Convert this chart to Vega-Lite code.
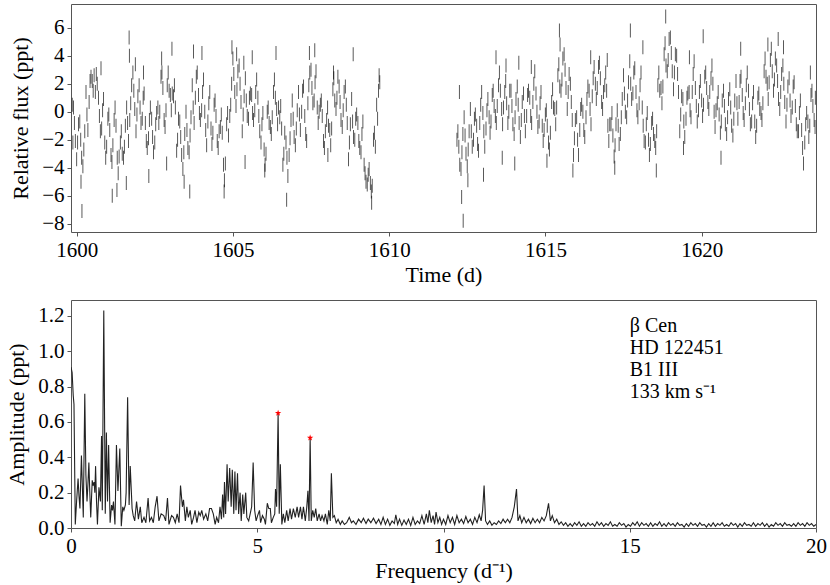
{
"$schema":"https://vega.github.io/schema/vega-lite/v6.json",
"padding":{"left":5,"top":3,"right":13,"bottom":5},
"spacing":68,
"bounds":"flush",
"config":{
"font":"Liberation Serif",
"view":{"stroke":"#555","strokeWidth":1},
"axis":{"labelFont":"Liberation Serif","titleFont":"Liberation Serif","labelFontSize":21,"titleFontSize":22,"titleFontWeight":"normal","labelColor":"#000","titleColor":"#000","grid":false,"domain":false,"tickColor":"#555","tickSize":4,"labelPadding":3,"labelFlush":false,"labelOverlap":false},
"axisY":{"titlePadding":9},
"axisX":{"titlePadding":4}
},
"datasets":{
"lc":[
{"t":1599.86,"f":0.5},{"t":1599.88,"f":-2.2},
{"t":1599.90,"f":0.3},{"t":1599.93,"f":-0.8},{"t":1599.96,"f":-2.1},
{"t":1600.00,"f":-3.4},{"t":1600.03,"f":-2.2},{"t":1600.06,"f":-0.9},
{"t":1600.10,"f":-0.7},{"t":1600.13,"f":-2.0},{"t":1600.16,"f":-3.3},{"t":1600.17,"f":-7.1},{"t":1600.14,"f":-5.0},
{"t":1600.20,"f":-3.9},{"t":1600.23,"f":-2.7},{"t":1600.26,"f":-1.4},
{"t":1600.30,"f":1.4},{"t":1600.33,"f":-0.2},{"t":1600.36,"f":-1.3},
{"t":1600.40,"f":0.7},{"t":1600.43,"f":2.2},{"t":1600.46,"f":2.5},
{"t":1600.50,"f":2.2},{"t":1600.53,"f":1.5},{"t":1600.56,"f":2.6},
{"t":1600.60,"f":1.4},{"t":1600.63,"f":2.7},{"t":1600.66,"f":2.0},
{"t":1600.70,"f":1.0},{"t":1600.73,"f":-0.3},{"t":1600.76,"f":-1.4},{"t":1600.78,"f":3.1},
{"t":1600.80,"f":-1.2},{"t":1600.83,"f":0.1},{"t":1600.86,"f":0.9},
{"t":1600.90,"f":-2.2},{"t":1600.93,"f":-3.3},{"t":1600.96,"f":-2.5},
{"t":1601.00,"f":-0.5},{"t":1601.03,"f":-0.2},{"t":1601.06,"f":-1.3},
{"t":1601.10,"f":-3.1},{"t":1601.13,"f":-3.6},{"t":1601.16,"f":-2.4},{"t":1601.14,"f":-6.0},
{"t":1601.20,"f":-0.6},{"t":1601.23,"f":0.3},{"t":1601.26,"f":-1.0},
{"t":1601.30,"f":-3.3},{"t":1601.33,"f":-4.4},{"t":1601.36,"f":-3.2},{"t":1601.29,"f":-5.6},
{"t":1601.40,"f":-2.2},{"t":1601.43,"f":-1.4},{"t":1601.46,"f":-3.0},
{"t":1601.50,"f":-3.3},{"t":1601.53,"f":-2.5},{"t":1601.56,"f":-1.0},{"t":1601.59,"f":-5.1},
{"t":1601.60,"f":0.3},{"t":1601.63,"f":-0.8},{"t":1601.66,"f":-2.1},
{"t":1601.70,"f":-0.6},{"t":1601.73,"f":0.6},{"t":1601.76,"f":1.9},{"t":1601.68,"f":5.3},{"t":1601.69,"f":4.0},
{"t":1601.80,"f":2.8},{"t":1601.83,"f":1.5},{"t":1601.86,"f":0.2},
{"t":1601.90,"f":-1.4},{"t":1601.93,"f":-0.2},{"t":1601.96,"f":1.1},{"t":1601.88,"f":3.4},
{"t":1602.00,"f":1.9},{"t":1602.03,"f":0.3},{"t":1602.06,"f":-0.8},
{"t":1602.10,"f":-0.5},{"t":1602.13,"f":1.0},{"t":1602.16,"f":1.3},{"t":1602.14,"f":2.8},
{"t":1602.20,"f":-0.8},{"t":1602.23,"f":-2.1},{"t":1602.26,"f":-2.6},
{"t":1602.30,"f":-1.9},{"t":1602.33,"f":-0.6},{"t":1602.36,"f":0.3},{"t":1602.31,"f":-4.6},
{"t":1602.40,"f":-0.5},{"t":1602.43,"f":-1.8},{"t":1602.46,"f":-2.9},
{"t":1602.50,"f":-2.2},{"t":1602.53,"f":-0.9},{"t":1602.56,"f":-0.1},
{"t":1602.60,"f":0.3},{"t":1602.63,"f":-0.8},{"t":1602.66,"f":0.0},
{"t":1602.70,"f":2.5},{"t":1602.73,"f":2.8},{"t":1602.76,"f":1.7},{"t":1602.72,"f":3.8},
{"t":1602.80,"f":-0.6},{"t":1602.83,"f":-1.1},{"t":1602.86,"f":0.1},{"t":1602.88,"f":-3.7},
{"t":1602.90,"f":1.9},{"t":1602.93,"f":2.8},{"t":1602.96,"f":1.5},
{"t":1603.00,"f":1.2},{"t":1603.03,"f":0.1},{"t":1603.06,"f":1.3},{"t":1603.05,"f":4.5},
{"t":1603.10,"f":1.1},{"t":1603.13,"f":1.9},{"t":1603.16,"f":0.3},
{"t":1603.20,"f":-2.8},{"t":1603.23,"f":-2.0},{"t":1603.26,"f":-0.5},
{"t":1603.30,"f":-0.7},{"t":1603.33,"f":-1.8},{"t":1603.36,"f":-3.1},
{"t":1603.40,"f":-4.1},{"t":1603.43,"f":-2.9},{"t":1603.46,"f":-1.6},{"t":1603.44,"f":-5.0},
{"t":1603.50,"f":0.0},{"t":1603.53,"f":-1.3},{"t":1603.56,"f":-2.6},
{"t":1603.60,"f":-2.9},{"t":1603.63,"f":-1.7},{"t":1603.66,"f":-0.4},{"t":1603.62,"f":-5.7},
{"t":1603.70,"f":1.9},{"t":1603.73,"f":0.3},{"t":1603.76,"f":-0.8},{"t":1603.74,"f":4.3},
{"t":1603.80,"f":1.0},{"t":1603.83,"f":2.5},{"t":1603.86,"f":2.8},
{"t":1603.90,"f":1.2},{"t":1603.93,"f":-0.1},{"t":1603.96,"f":-0.6},
{"t":1604.00,"f":0.1},{"t":1604.03,"f":1.4},{"t":1604.06,"f":2.3},{"t":1604.01,"f":4.2},
{"t":1604.10,"f":0.0},{"t":1604.13,"f":-1.3},{"t":1604.16,"f":-2.4},
{"t":1604.20,"f":-0.7},{"t":1604.23,"f":0.6},{"t":1604.26,"f":1.4},
{"t":1604.30,"f":-1.2},{"t":1604.33,"f":-2.3},{"t":1604.36,"f":-1.5},
{"t":1604.40,"f":0.5},{"t":1604.43,"f":0.8},{"t":1604.46,"f":-0.3},
{"t":1604.50,"f":-2.1},{"t":1604.53,"f":-2.6},{"t":1604.56,"f":-1.4},
{"t":1604.60,"f":-1.1},{"t":1604.63,"f":-0.2},{"t":1604.66,"f":-1.5},
{"t":1604.70,"f":-3.8},{"t":1604.73,"f":-4.9},{"t":1604.76,"f":-3.7},{"t":1604.72,"f":-5.7},
{"t":1604.80,"f":-0.9},{"t":1604.83,"f":-0.1},{"t":1604.86,"f":-1.7},
{"t":1604.90,"f":-0.3},{"t":1604.93,"f":0.5},{"t":1604.96,"f":2.0},
{"t":1605.00,"f":3.8},{"t":1605.03,"f":2.7},{"t":1605.06,"f":1.4},{"t":1604.97,"f":4.6},
{"t":1605.10,"f":0.4},{"t":1605.13,"f":1.6},{"t":1605.16,"f":2.9},{"t":1605.12,"f":4.1},
{"t":1605.20,"f":3.3},{"t":1605.23,"f":2.0},{"t":1605.26,"f":0.7},
{"t":1605.30,"f":-1.4},{"t":1605.33,"f":-0.2},{"t":1605.36,"f":1.1},{"t":1605.35,"f":3.5},
{"t":1605.40,"f":2.4},{"t":1605.43,"f":0.8},{"t":1605.46,"f":-0.3},{"t":1605.39,"f":-3.6},
{"t":1605.50,"f":-0.5},{"t":1605.53,"f":1.0},{"t":1605.56,"f":1.3},
{"t":1605.60,"f":1.2},{"t":1605.63,"f":-0.1},{"t":1605.66,"f":-0.6},{"t":1605.62,"f":3.9},
{"t":1605.70,"f":0.1},{"t":1605.73,"f":1.4},{"t":1605.76,"f":2.3},
{"t":1605.80,"f":1.0},{"t":1605.83,"f":-0.3},{"t":1605.86,"f":-1.4},
{"t":1605.90,"f":-2.2},{"t":1605.93,"f":-0.9},{"t":1605.96,"f":-0.1},
{"t":1606.00,"f":-2.7},{"t":1606.03,"f":-3.8},{"t":1606.06,"f":-3.0},{"t":1606.02,"f":-4.2},
{"t":1606.10,"f":0.0},{"t":1606.13,"f":0.3},{"t":1606.16,"f":-0.8},
{"t":1606.20,"f":-1.1},{"t":1606.23,"f":-1.6},{"t":1606.26,"f":-0.4},
{"t":1606.30,"f":1.4},{"t":1606.33,"f":2.3},{"t":1606.36,"f":1.0},{"t":1606.38,"f":4.2},
{"t":1606.40,"f":0.2},{"t":1606.43,"f":-0.9},{"t":1606.46,"f":0.3},
{"t":1606.50,"f":-0.4},{"t":1606.53,"f":0.4},{"t":1606.56,"f":-1.2},
{"t":1606.60,"f":-3.8},{"t":1606.63,"f":-3.0},{"t":1606.66,"f":-1.5},
{"t":1606.70,"f":-2.2},{"t":1606.73,"f":-3.3},{"t":1606.76,"f":-4.6},{"t":1606.72,"f":-6.3},
{"t":1606.80,"f":-3.1},{"t":1606.83,"f":-1.9},{"t":1606.86,"f":-0.6},
{"t":1606.90,"f":0.8},{"t":1606.93,"f":-0.5},{"t":1606.96,"f":-1.8},
{"t":1607.00,"f":-2.4},{"t":1607.03,"f":-1.2},{"t":1607.06,"f":0.1},
{"t":1607.10,"f":1.4},{"t":1607.13,"f":-0.2},{"t":1607.16,"f":-1.3},
{"t":1607.20,"f":0.0},{"t":1607.23,"f":1.5},{"t":1607.26,"f":1.8},
{"t":1607.30,"f":-0.3},{"t":1607.33,"f":-1.6},{"t":1607.36,"f":-2.1},
{"t":1607.40,"f":0.6},{"t":1607.43,"f":1.9},{"t":1607.46,"f":2.8},{"t":1607.45,"f":4.2},
{"t":1607.50,"f":3.0},{"t":1607.53,"f":1.7},{"t":1607.56,"f":0.6},
{"t":1607.60,"f":0.8},{"t":1607.63,"f":2.1},{"t":1607.66,"f":2.9},{"t":1607.62,"f":4.4},
{"t":1607.70,"f":0.3},{"t":1607.73,"f":-0.8},{"t":1607.76,"f":0.0},
{"t":1607.80,"f":0.5},{"t":1607.83,"f":0.8},{"t":1607.86,"f":-0.3},
{"t":1607.90,"f":-2.1},{"t":1607.93,"f":-2.6},{"t":1607.96,"f":-1.4},
{"t":1608.00,"f":-0.6},{"t":1608.03,"f":0.3},{"t":1608.06,"f":-1.0},{"t":1608.04,"f":-3.1},
{"t":1608.10,"f":-1.3},{"t":1608.13,"f":-2.4},{"t":1608.16,"f":-1.2},
{"t":1608.20,"f":1.6},{"t":1608.23,"f":2.4},{"t":1608.26,"f":0.8},{"t":1608.22,"f":2.8},
{"t":1608.30,"f":0.2},{"t":1608.33,"f":1.0},{"t":1608.36,"f":2.5},
{"t":1608.40,"f":1.8},{"t":1608.43,"f":0.7},{"t":1608.46,"f":-0.6},
{"t":1608.50,"f":-1.1},{"t":1608.53,"f":0.1},{"t":1608.56,"f":1.4},
{"t":1608.60,"f":1.8},{"t":1608.63,"f":0.5},{"t":1608.66,"f":-0.8},
{"t":1608.70,"f":-3.4},{"t":1608.73,"f":-2.2},{"t":1608.76,"f":-0.9},
{"t":1608.80,"f":0.9},{"t":1608.83,"f":-0.7},{"t":1608.86,"f":-1.8},{"t":1608.85,"f":4.1},
{"t":1608.90,"f":-2.0},{"t":1608.93,"f":-0.5},{"t":1608.96,"f":-0.2},
{"t":1609.00,"f":-0.8},{"t":1609.03,"f":-2.1},{"t":1609.06,"f":-2.6},
{"t":1609.10,"f":-2.9},{"t":1609.13,"f":-1.6},{"t":1609.16,"f":-0.7},
{"t":1609.20,"f":-3.8},{"t":1609.23,"f":-4.4},{"t":1609.26,"f":-5.0},
{"t":1609.30,"f":-5.2},{"t":1609.33,"f":-4.5},{"t":1609.36,"f":-4.1},
{"t":1609.40,"f":-5.1},{"t":1609.43,"f":-5.7},{"t":1609.46,"f":-5.3},{"t":1609.44,"f":-6.5},
{"t":1609.50,"f":-2.0},{"t":1609.53,"f":-1.5},{"t":1609.56,"f":-2.5},
{"t":1609.60,"f":0.5},{"t":1609.63,"f":-0.5},{"t":1609.66,"f":1.5},{"t":1609.68,"f":2.6},
{"t":1609.70,"f":2.1},
{"t":1612.17,"f":-2.0},
{"t":1612.20,"f":-1.4},{"t":1612.23,"f":-2.5},{"t":1612.26,"f":-3.8},{"t":1612.25,"f":1.4},
{"t":1612.30,"f":-4.1},{"t":1612.33,"f":-2.9},{"t":1612.36,"f":-1.6},{"t":1612.32,"f":-6.1},{"t":1612.37,"f":-7.8},
{"t":1612.40,"f":-0.4},{"t":1612.43,"f":-1.7},{"t":1612.46,"f":-3.0},
{"t":1612.50,"f":-3.9},{"t":1612.53,"f":-2.7},{"t":1612.56,"f":-1.4},{"t":1612.52,"f":-4.9},
{"t":1612.60,"f":0.2},{"t":1612.63,"f":-1.4},{"t":1612.66,"f":-2.5},
{"t":1612.70,"f":-2.0},{"t":1612.73,"f":-0.5},{"t":1612.76,"f":-0.2},
{"t":1612.80,"f":-1.0},{"t":1612.83,"f":-2.3},{"t":1612.86,"f":-2.8},
{"t":1612.90,"f":-0.8},{"t":1612.93,"f":0.5},{"t":1612.96,"f":1.4},
{"t":1613.00,"f":-0.1},{"t":1613.03,"f":-1.4},{"t":1613.06,"f":-2.5},{"t":1613.02,"f":-4.5},
{"t":1613.10,"f":-1.2},{"t":1613.13,"f":0.1},{"t":1613.16,"f":0.9},
{"t":1613.20,"f":-0.4},{"t":1613.23,"f":-1.5},{"t":1613.26,"f":-0.7},
{"t":1613.30,"f":1.2},{"t":1613.33,"f":1.5},{"t":1613.36,"f":0.4},
{"t":1613.40,"f":-0.3},{"t":1613.43,"f":-0.8},{"t":1613.46,"f":0.4},{"t":1613.42,"f":3.9},
{"t":1613.50,"f":1.9},{"t":1613.53,"f":2.8},{"t":1613.56,"f":1.5},
{"t":1613.60,"f":0.2},{"t":1613.63,"f":-0.9},{"t":1613.66,"f":0.3},{"t":1613.62,"f":-3.3},
{"t":1613.70,"f":1.4},{"t":1613.73,"f":2.2},{"t":1613.76,"f":0.6},{"t":1613.74,"f":3.3},
{"t":1613.80,"f":-0.8},{"t":1613.83,"f":0.0},{"t":1613.86,"f":1.5},
{"t":1613.90,"f":1.5},{"t":1613.93,"f":0.4},{"t":1613.96,"f":-0.9},
{"t":1614.00,"f":-1.6},{"t":1614.03,"f":-0.4},{"t":1614.06,"f":0.9},{"t":1614.02,"f":-3.7},
{"t":1614.10,"f":1.8},{"t":1614.13,"f":0.5},{"t":1614.16,"f":-0.8},{"t":1614.15,"f":3.5},
{"t":1614.20,"f":-1.8},{"t":1614.23,"f":-0.6},{"t":1614.26,"f":0.7},
{"t":1614.30,"f":1.3},{"t":1614.33,"f":-0.3},{"t":1614.36,"f":-1.4},
{"t":1614.40,"f":-0.3},{"t":1614.43,"f":1.2},{"t":1614.46,"f":1.5},
{"t":1614.50,"f":1.0},{"t":1614.53,"f":-0.3},{"t":1614.56,"f":-0.8},{"t":1614.55,"f":3.2},
{"t":1614.60,"f":0.7},{"t":1614.63,"f":2.0},{"t":1614.66,"f":2.9},
{"t":1614.70,"f":1.3},{"t":1614.73,"f":0.0},{"t":1614.76,"f":-1.1},
{"t":1614.80,"f":-0.7},{"t":1614.83,"f":0.6},{"t":1614.86,"f":1.4},
{"t":1614.90,"f":-1.0},{"t":1614.93,"f":-2.1},{"t":1614.96,"f":-1.3},
{"t":1615.00,"f":-0.2},{"t":1615.03,"f":0.1},{"t":1615.06,"f":-1.0},{"t":1615.05,"f":-3.5},
{"t":1615.10,"f":-2.2},{"t":1615.13,"f":-2.7},{"t":1615.16,"f":-1.5},
{"t":1615.20,"f":0.7},{"t":1615.23,"f":1.6},{"t":1615.26,"f":0.3},
{"t":1615.30,"f":0.2},{"t":1615.33,"f":-0.9},{"t":1615.36,"f":0.3},
{"t":1615.40,"f":2.6},{"t":1615.43,"f":3.4},{"t":1615.46,"f":1.8},{"t":1615.45,"f":5.8},{"t":1615.47,"f":4.8},
{"t":1615.50,"f":1.5},{"t":1615.53,"f":2.3},{"t":1615.56,"f":3.8},
{"t":1615.60,"f":4.1},{"t":1615.63,"f":3.0},{"t":1615.66,"f":1.7},
{"t":1615.70,"f":0.2},{"t":1615.73,"f":1.4},{"t":1615.76,"f":2.7},
{"t":1615.80,"f":2.0},{"t":1615.83,"f":0.7},{"t":1615.86,"f":-0.6},
{"t":1615.90,"f":-3.1},{"t":1615.93,"f":-1.9},{"t":1615.96,"f":-0.6},{"t":1615.88,"f":-4.2},
{"t":1616.00,"f":-0.4},{"t":1616.03,"f":-2.0},{"t":1616.06,"f":-3.1},
{"t":1616.10,"f":-1.3},{"t":1616.13,"f":0.2},{"t":1616.16,"f":0.5},
{"t":1616.20,"f":0.0},{"t":1616.23,"f":-1.3},{"t":1616.26,"f":-1.8},
{"t":1616.30,"f":-0.4},{"t":1616.33,"f":0.9},{"t":1616.36,"f":1.8},
{"t":1616.40,"f":1.5},{"t":1616.43,"f":0.2},{"t":1616.46,"f":-0.9},
{"t":1616.50,"f":1.1},{"t":1616.53,"f":2.4},{"t":1616.56,"f":3.2},{"t":1616.45,"f":3.9},
{"t":1616.60,"f":2.0},{"t":1616.63,"f":0.9},{"t":1616.66,"f":1.7},
{"t":1616.70,"f":3.2},{"t":1616.73,"f":3.5},{"t":1616.76,"f":2.4},
{"t":1616.80,"f":0.7},{"t":1616.83,"f":0.2},{"t":1616.86,"f":1.4},
{"t":1616.90,"f":1.9},{"t":1616.93,"f":2.8},{"t":1616.96,"f":1.5},{"t":1616.98,"f":3.7},
{"t":1617.00,"f":-1.0},{"t":1617.03,"f":-2.1},{"t":1617.06,"f":-0.9},
{"t":1617.10,"f":-0.9},{"t":1617.13,"f":-0.1},{"t":1617.16,"f":-1.7},
{"t":1617.20,"f":-3.2},{"t":1617.23,"f":-2.4},{"t":1617.26,"f":-0.9},{"t":1617.22,"f":-4.0},
{"t":1617.30,"f":0.1},{"t":1617.33,"f":-1.0},{"t":1617.36,"f":-2.3},
{"t":1617.40,"f":-1.6},{"t":1617.43,"f":-0.4},{"t":1617.46,"f":0.9},
{"t":1617.50,"f":2.6},{"t":1617.53,"f":1.3},{"t":1617.56,"f":0.0},
{"t":1617.60,"f":-0.4},{"t":1617.63,"f":0.8},{"t":1617.66,"f":2.1},
{"t":1617.70,"f":3.6},{"t":1617.73,"f":2.0},{"t":1617.76,"f":0.9},{"t":1617.72,"f":5.8},
{"t":1617.80,"f":1.3},{"t":1617.83,"f":2.8},{"t":1617.86,"f":3.1},
{"t":1617.90,"f":1.4},{"t":1617.93,"f":0.1},{"t":1617.96,"f":-0.4},
{"t":1618.00,"f":0.6},{"t":1618.03,"f":1.9},{"t":1618.06,"f":2.8},
{"t":1618.10,"f":0.3},{"t":1618.13,"f":-1.0},{"t":1618.16,"f":-2.1},{"t":1618.12,"f":4.6},
{"t":1618.20,"f":-2.2},{"t":1618.23,"f":-0.9},{"t":1618.26,"f":-0.1},
{"t":1618.30,"f":-2.0},{"t":1618.33,"f":-3.1},{"t":1618.36,"f":-2.3},
{"t":1618.40,"f":-0.8},{"t":1618.43,"f":-0.5},{"t":1618.46,"f":-1.6},
{"t":1618.50,"f":-2.1},{"t":1618.53,"f":-2.6},{"t":1618.56,"f":-1.4},{"t":1618.55,"f":-4.2},
{"t":1618.60,"f":1.9},{"t":1618.63,"f":2.8},{"t":1618.66,"f":1.5},
{"t":1618.70,"f":1.7},{"t":1618.73,"f":0.6},{"t":1618.76,"f":1.8},
{"t":1618.80,"f":4.1},{"t":1618.83,"f":4.9},{"t":1618.86,"f":3.3},{"t":1618.85,"f":6.8},
{"t":1618.90,"f":2.9},{"t":1618.93,"f":3.7},{"t":1618.96,"f":5.2},
{"t":1619.00,"f":5.3},{"t":1619.03,"f":4.2},{"t":1619.06,"f":2.9},
{"t":1619.10,"f":1.6},{"t":1619.13,"f":2.8},{"t":1619.16,"f":4.1},
{"t":1619.20,"f":4.0},{"t":1619.23,"f":2.7},{"t":1619.26,"f":1.4},
{"t":1619.30,"f":-1.4},{"t":1619.33,"f":-0.2},{"t":1619.36,"f":1.1},
{"t":1619.40,"f":0.9},{"t":1619.43,"f":-0.7},{"t":1619.46,"f":-1.8},{"t":1619.42,"f":-2.6},
{"t":1619.50,"f":-0.5},{"t":1619.53,"f":1.0},{"t":1619.56,"f":1.3},
{"t":1619.60,"f":1.4},{"t":1619.63,"f":0.1},{"t":1619.66,"f":-0.4},{"t":1619.61,"f":3.9},
{"t":1619.70,"f":1.4},{"t":1619.73,"f":2.7},{"t":1619.76,"f":3.6},
{"t":1619.80,"f":1.7},{"t":1619.83,"f":0.4},{"t":1619.86,"f":-0.7},
{"t":1619.90,"f":0.1},{"t":1619.93,"f":1.4},{"t":1619.96,"f":2.2},
{"t":1620.00,"f":0.8},{"t":1620.03,"f":-0.3},{"t":1620.06,"f":0.5},{"t":1620.05,"f":5.4},
{"t":1620.10,"f":2.5},{"t":1620.13,"f":2.8},{"t":1620.16,"f":1.7},
{"t":1620.20,"f":0.7},{"t":1620.23,"f":0.2},{"t":1620.26,"f":1.4},
{"t":1620.30,"f":2.4},{"t":1620.33,"f":3.3},{"t":1620.36,"f":2.0},
{"t":1620.40,"f":0.0},{"t":1620.43,"f":-1.1},{"t":1620.46,"f":0.1},
{"t":1620.50,"f":0.6},{"t":1620.53,"f":1.4},{"t":1620.56,"f":-0.2},
{"t":1620.60,"f":-1.5},{"t":1620.63,"f":-0.7},{"t":1620.66,"f":0.8},{"t":1620.62,"f":-3.3},
{"t":1620.70,"f":1.5},{"t":1620.73,"f":0.4},{"t":1620.76,"f":-0.9},
{"t":1620.80,"f":-1.6},{"t":1620.83,"f":-0.4},{"t":1620.86,"f":0.9},
{"t":1620.90,"f":1.6},{"t":1620.93,"f":0.3},{"t":1620.96,"f":-1.0},
{"t":1621.00,"f":-1.7},{"t":1621.03,"f":-0.5},{"t":1621.06,"f":0.8},
{"t":1621.10,"f":2.2},{"t":1621.13,"f":0.6},{"t":1621.16,"f":-0.5},
{"t":1621.20,"f":0.7},{"t":1621.23,"f":2.2},{"t":1621.26,"f":2.5},{"t":1621.25,"f":4.5},
{"t":1621.30,"f":1.2},{"t":1621.33,"f":-0.1},{"t":1621.36,"f":-0.6},
{"t":1621.40,"f":0.6},{"t":1621.43,"f":1.9},{"t":1621.46,"f":2.8},
{"t":1621.50,"f":1.5},{"t":1621.53,"f":0.2},{"t":1621.56,"f":-0.9},
{"t":1621.60,"f":-0.7},{"t":1621.63,"f":0.6},{"t":1621.66,"f":1.4},
{"t":1621.70,"f":-0.7},{"t":1621.73,"f":-1.8},{"t":1621.76,"f":-1.0},
{"t":1621.80,"f":1.0},{"t":1621.83,"f":1.3},{"t":1621.86,"f":0.2},
{"t":1621.90,"f":-0.1},{"t":1621.93,"f":-0.6},{"t":1621.96,"f":0.6},
{"t":1622.00,"f":2.9},{"t":1622.03,"f":3.8},{"t":1622.06,"f":2.5},
{"t":1622.10,"f":2.0},{"t":1622.13,"f":0.9},{"t":1622.16,"f":2.1},{"t":1622.12,"f":4.8},
{"t":1622.20,"f":3.7},{"t":1622.23,"f":4.5},{"t":1622.26,"f":2.9},
{"t":1622.30,"f":1.5},{"t":1622.33,"f":2.3},{"t":1622.36,"f":3.8},
{"t":1622.40,"f":3.3},{"t":1622.43,"f":2.2},{"t":1622.46,"f":0.9},{"t":1622.45,"f":5.2},
{"t":1622.50,"f":0.2},{"t":1622.53,"f":1.4},{"t":1622.56,"f":2.7},
{"t":1622.60,"f":3.3},{"t":1622.63,"f":2.0},{"t":1622.66,"f":0.7},{"t":1622.62,"f":4.6},
{"t":1622.70,"f":-0.7},{"t":1622.73,"f":0.5},{"t":1622.76,"f":1.8},
{"t":1622.80,"f":2.4},{"t":1622.83,"f":0.8},{"t":1622.86,"f":-0.3},
{"t":1622.90,"f":0.3},{"t":1622.93,"f":1.8},{"t":1622.96,"f":2.1},
{"t":1623.00,"f":0.4},{"t":1623.03,"f":-0.9},{"t":1623.06,"f":-1.4},
{"t":1623.10,"f":-1.4},{"t":1623.13,"f":-0.1},{"t":1623.16,"f":0.8},
{"t":1623.20,"f":-1.3},{"t":1623.23,"f":-2.6},{"t":1623.26,"f":-3.7},
{"t":1623.30,"f":-2.2},{"t":1623.33,"f":-0.9},{"t":1623.36,"f":-0.1},
{"t":1623.40,"f":-0.7},{"t":1623.43,"f":-1.8},{"t":1623.46,"f":-1.0},
{"t":1623.50,"f":1.2},{"t":1623.53,"f":1.5},{"t":1623.56,"f":0.4},{"t":1623.48,"f":2.8},
{"t":1623.60,"f":-0.6},{"t":1623.63,"f":-1.1},{"t":1623.64,"f":1.0}
],
"ps":[
{"fr":0.0,"a":0.91},{"fr":0.03,"a":0.88},{"fr":0.06,"a":0.75},{"fr":0.08,"a":0.7},{"fr":0.115,"a":0.02},{"fr":0.15,"a":0.15},{"fr":0.19,"a":0.28},{"fr":0.215,"a":0.18},{"fr":0.24,"a":0.11},{"fr":0.28,"a":0.41},{"fr":0.31,"a":0.2},{"fr":0.33,"a":0.06},{"fr":0.37,"a":0.76},{"fr":0.4,"a":0.3},{"fr":0.43,"a":0.15},{"fr":0.455,"a":0.25},{"fr":0.48,"a":0.37},{"fr":0.505,"a":0.2},{"fr":0.53,"a":0.06},{"fr":0.57,"a":0.27},{"fr":0.595,"a":0.24},{"fr":0.62,"a":0.26},{"fr":0.64,"a":0.2},{"fr":0.66,"a":0.35},{"fr":0.685,"a":0.15},{"fr":0.71,"a":0.02},{"fr":0.75,"a":0.23},{"fr":0.79,"a":0.15},{"fr":0.82,"a":0.52},{"fr":0.84,"a":0.1},{"fr":0.88,"a":1.23},{"fr":0.92,"a":0.08},{"fr":0.95,"a":0.54},{"fr":0.98,"a":0.15},{"fr":1.01,"a":0.47},{"fr":1.05,"a":0.03},{"fr":1.09,"a":0.13},{"fr":1.115,"a":0.1},{"fr":1.14,"a":0.15},{"fr":1.18,"a":0.02},{"fr":1.22,"a":0.47},{"fr":1.26,"a":0.21},{"fr":1.31,"a":0.45},{"fr":1.35,"a":0.01},{"fr":1.39,"a":0.12},{"fr":1.42,"a":0.1},{"fr":1.46,"a":0.13},{"fr":1.48,"a":0.2},{"fr":1.52,"a":0.74},{"fr":1.56,"a":0.13},{"fr":1.59,"a":0.35},{"fr":1.64,"a":0.11},{"fr":1.67,"a":0.07},{"fr":1.71,"a":0.04},{"fr":1.76,"a":0.15},{"fr":1.81,"a":0.05},{"fr":1.86,"a":0.12},{"fr":1.9,"a":0.03},{"fr":1.96,"a":0.06},{"fr":2.01,"a":0.03},{"fr":2.07,"a":0.17},{"fr":2.11,"a":0.04},{"fr":2.16,"a":0.06},{"fr":2.21,"a":0.03},{"fr":2.26,"a":0.12},{"fr":2.31,"a":0.18},{"fr":2.36,"a":0.04},{"fr":2.42,"a":0.08},{"fr":2.49,"a":0.07},{"fr":2.54,"a":0.04},{"fr":2.59,"a":0.17},{"fr":2.63,"a":0.02},{"fr":2.7,"a":0.07},{"fr":2.75,"a":0.06},{"fr":2.8,"a":0.03},{"fr":2.85,"a":0.08},{"fr":2.9,"a":0.03},{"fr":2.94,"a":0.24},{"fr":2.99,"a":0.12},{"fr":3.02,"a":0.16},{"fr":3.07,"a":0.04},{"fr":3.11,"a":0.12},{"fr":3.15,"a":0.06},{"fr":3.2,"a":0.1},{"fr":3.24,"a":0.02},{"fr":3.29,"a":0.06},{"fr":3.33,"a":0.1},{"fr":3.38,"a":0.03},{"fr":3.43,"a":0.09},{"fr":3.47,"a":0.07},{"fr":3.51,"a":0.1},{"fr":3.56,"a":0.05},{"fr":3.62,"a":0.08},{"fr":3.67,"a":0.04},{"fr":3.72,"a":0.11},{"fr":3.77,"a":0.11},{"fr":3.82,"a":0.08},{"fr":3.87,"a":0.02},{"fr":3.91,"a":0.06},{"fr":3.96,"a":0.03},{"fr":4.0,"a":0.12},{"fr":4.04,"a":0.05},{"fr":4.07,"a":0.19},{"fr":4.1,"a":0.06},{"fr":4.12,"a":0.26},{"fr":4.15,"a":0.08},{"fr":4.19,"a":0.36},{"fr":4.22,"a":0.15},{"fr":4.26,"a":0.34},{"fr":4.3,"a":0.12},{"fr":4.33,"a":0.33},{"fr":4.37,"a":0.08},{"fr":4.4,"a":0.32},{"fr":4.43,"a":0.1},{"fr":4.47,"a":0.31},{"fr":4.5,"a":0.08},{"fr":4.54,"a":0.2},{"fr":4.57,"a":0.04},{"fr":4.61,"a":0.19},{"fr":4.64,"a":0.08},{"fr":4.69,"a":0.2},{"fr":4.72,"a":0.06},{"fr":4.77,"a":0.04},{"fr":4.81,"a":0.08},{"fr":4.85,"a":0.12},{"fr":4.89,"a":0.37},{"fr":4.93,"a":0.1},{"fr":4.97,"a":0.04},{"fr":5.01,"a":0.07},{"fr":5.06,"a":0.1},{"fr":5.09,"a":0.03},{"fr":5.14,"a":0.07},{"fr":5.19,"a":0.05},{"fr":5.22,"a":0.02},{"fr":5.27,"a":0.14},{"fr":5.31,"a":0.11},{"fr":5.35,"a":0.11},{"fr":5.38,"a":0.03},{"fr":5.43,"a":0.06},{"fr":5.47,"a":0.08},{"fr":5.49,"a":0.22},{"fr":5.52,"a":0.12},{"fr":5.56,"a":0.65},{"fr":5.59,"a":0.08},{"fr":5.62,"a":0.36},{"fr":5.66,"a":0.02},{"fr":5.7,"a":0.08},{"fr":5.74,"a":0.03},{"fr":5.79,"a":0.1},{"fr":5.83,"a":0.04},{"fr":5.88,"a":0.11},{"fr":5.92,"a":0.05},{"fr":5.97,"a":0.11},{"fr":6.02,"a":0.06},{"fr":6.07,"a":0.12},{"fr":6.11,"a":0.06},{"fr":6.16,"a":0.12},{"fr":6.2,"a":0.05},{"fr":6.24,"a":0.12},{"fr":6.29,"a":0.04},{"fr":6.33,"a":0.12},{"fr":6.36,"a":0.21},{"fr":6.39,"a":0.04},{"fr":6.42,"a":0.51},{"fr":6.45,"a":0.04},{"fr":6.49,"a":0.1},{"fr":6.53,"a":0.06},{"fr":6.57,"a":0.11},{"fr":6.61,"a":0.04},{"fr":6.66,"a":0.08},{"fr":6.7,"a":0.04},{"fr":6.74,"a":0.07},{"fr":6.79,"a":0.04},{"fr":6.83,"a":0.08},{"fr":6.88,"a":0.02},{"fr":6.92,"a":0.1},{"fr":6.96,"a":0.04},{"fr":6.99,"a":0.31},{"fr":7.03,"a":0.06},{"fr":7.07,"a":0.07},{"fr":7.12,"a":0.03},{"fr":7.17,"a":0.05},{"fr":7.23,"a":0.02},{"fr":7.28,"a":0.04},{"fr":7.34,"a":0.02},{"fr":7.4,"a":0.03},{"fr":7.47,"a":0.06},{"fr":7.53,"a":0.03},{"fr":7.58,"a":0.04},{"fr":7.65,"a":0.02},{"fr":7.72,"a":0.05},{"fr":7.79,"a":0.03},{"fr":7.85,"a":0.055},{"fr":7.92,"a":0.025},{"fr":7.98,"a":0.05},{"fr":8.05,"a":0.03},{"fr":8.12,"a":0.055},{"fr":8.19,"a":0.025},{"fr":8.26,"a":0.05},
{"fr":8.32,"a":0.02},{"fr":8.38,"a":0.06},{"fr":8.44,"a":0.02},{"fr":8.5,"a":0.05},{"fr":8.56,"a":0.015},{"fr":8.62,"a":0.04},{"fr":8.68,"a":0.025},{"fr":8.72,"a":0.075},{"fr":8.77,"a":0.02},{"fr":8.82,"a":0.05},{"fr":8.88,"a":0.015},{"fr":8.94,"a":0.045},{"fr":9.0,"a":0.02},{"fr":9.06,"a":0.05},{"fr":9.12,"a":0.015},{"fr":9.18,"a":0.06},{"fr":9.24,"a":0.02},{"fr":9.3,"a":0.04},{"fr":9.36,"a":0.025},{"fr":9.42,"a":0.07},{"fr":9.48,"a":0.02},{"fr":9.54,"a":0.08},{"fr":9.58,"a":0.03},{"fr":9.62,"a":0.1},{"fr":9.67,"a":0.03},{"fr":9.72,"a":0.07},{"fr":9.76,"a":0.02},{"fr":9.8,"a":0.09},{"fr":9.85,"a":0.03},{"fr":9.9,"a":0.06},{"fr":9.95,"a":0.02},{"fr":10.0,"a":0.05},{"fr":10.06,"a":0.02},{"fr":10.12,"a":0.07},{"fr":10.18,"a":0.03},{"fr":10.24,"a":0.06},{"fr":10.3,"a":0.02},{"fr":10.36,"a":0.07},{"fr":10.42,"a":0.03},{"fr":10.48,"a":0.05},{"fr":10.54,"a":0.025},{"fr":10.6,"a":0.065},{"fr":10.66,"a":0.03},{"fr":10.72,"a":0.05},{"fr":10.78,"a":0.02},{"fr":10.84,"a":0.06},{"fr":10.9,"a":0.03},{"fr":10.96,"a":0.075},{"fr":11.01,"a":0.04},{"fr":11.05,"a":0.1},{"fr":11.09,"a":0.24},{"fr":11.13,"a":0.04},{"fr":11.18,"a":0.02},{"fr":11.24,"a":0.04},{"fr":11.3,"a":0.015},{"fr":11.36,"a":0.03},{"fr":11.42,"a":0.02},{"fr":11.48,"a":0.04},{"fr":11.54,"a":0.025},{"fr":11.6,"a":0.05},{"fr":11.66,"a":0.03},{"fr":11.72,"a":0.05},{"fr":11.78,"a":0.03},{"fr":11.84,"a":0.06},{"fr":11.9,"a":0.12},{"fr":11.96,"a":0.22},{"fr":12.0,"a":0.04},{"fr":12.05,"a":0.07},{"fr":12.1,"a":0.03},{"fr":12.16,"a":0.06},{"fr":12.22,"a":0.03},{"fr":12.28,"a":0.05},{"fr":12.34,"a":0.025},{"fr":12.4,"a":0.055},{"fr":12.46,"a":0.03},{"fr":12.52,"a":0.05},{"fr":12.58,"a":0.03},{"fr":12.64,"a":0.06},{"fr":12.7,"a":0.04},{"fr":12.76,"a":0.07},{"fr":12.82,"a":0.14},{"fr":12.87,"a":0.04},{"fr":12.92,"a":0.07},{"fr":12.98,"a":0.03},{"fr":13.04,"a":0.05},{"fr":13.1,"a":0.02},{"fr":13.16,"a":0.035},{"fr":13.22,"a":0.015},{"fr":13.28,"a":0.03},{"fr":13.34,"a":0.01},{"fr":13.4,"a":0.025},{"fr":13.46,"a":0.01},{"fr":13.52,"a":0.03},{"fr":13.58,"a":0.015},{"fr":13.64,"a":0.035},{"fr":13.7,"a":0.01},{"fr":13.76,"a":0.025},{"fr":13.82,"a":0.01},{"fr":13.88,"a":0.03},{"fr":13.94,"a":0.015},{"fr":14.0,"a":0.025},{"fr":14.06,"a":0.01},{"fr":14.12,"a":0.035},{"fr":14.18,"a":0.015},{"fr":14.24,"a":0.03},{"fr":14.3,"a":0.01},{"fr":14.36,"a":0.025},{"fr":14.42,"a":0.015},{"fr":14.48,"a":0.035},{"fr":14.54,"a":0.01},{"fr":14.6,"a":0.02},{"fr":14.66,"a":0.01},{"fr":14.72,"a":0.03},{"fr":14.78,"a":0.015},{"fr":14.84,"a":0.025},{"fr":14.9,"a":0.005},{"fr":14.96,"a":0.02},{"fr":15.02,"a":0.01},{"fr":15.08,"a":0.03},{"fr":15.14,"a":0.015},{"fr":15.2,"a":0.035},{"fr":15.26,"a":0.01},{"fr":15.32,"a":0.03},{"fr":15.38,"a":0.015},{"fr":15.44,"a":0.025},{"fr":15.5,"a":0.01},{"fr":15.56,"a":0.03},{"fr":15.62,"a":0.01},{"fr":15.68,"a":0.025},{"fr":15.74,"a":0.015},{"fr":15.8,"a":0.035},{"fr":15.86,"a":0.01},{"fr":15.92,"a":0.025},{"fr":15.98,"a":0.01},{"fr":16.04,"a":0.03},{"fr":16.1,"a":0.015},{"fr":16.16,"a":0.025},{"fr":16.22,"a":0.01},{"fr":16.28,"a":0.03},{"fr":16.34,"a":0.015},{"fr":16.4,"a":0.02},{"fr":16.46,"a":0.005},{"fr":16.52,"a":0.025},{"fr":16.58,"a":0.01},{"fr":16.64,"a":0.03},{"fr":16.7,"a":0.015},{"fr":16.76,"a":0.025},{"fr":16.82,"a":0.01},{"fr":16.88,"a":0.03},{"fr":16.94,"a":0.015},{"fr":17.0,"a":0.02},{"fr":17.06,"a":0.005},{"fr":17.12,"a":0.025},{"fr":17.18,"a":0.01},{"fr":17.24,"a":0.03},{"fr":17.3,"a":0.01},{"fr":17.36,"a":0.025},{"fr":17.42,"a":0.015},{"fr":17.48,"a":0.03},{"fr":17.54,"a":0.01},{"fr":17.6,"a":0.02},{"fr":17.66,"a":0.01},{"fr":17.72,"a":0.03},{"fr":17.78,"a":0.015},{"fr":17.84,"a":0.025},{"fr":17.9,"a":0.005},{"fr":17.96,"a":0.025},{"fr":18.02,"a":0.01},{"fr":18.08,"a":0.03},{"fr":18.14,"a":0.015},{"fr":18.2,"a":0.02},{"fr":18.26,"a":0.01},{"fr":18.32,"a":0.03},{"fr":18.38,"a":0.01},{"fr":18.44,"a":0.025},{"fr":18.5,"a":0.015},{"fr":18.56,"a":0.03},{"fr":18.62,"a":0.01},{"fr":18.68,"a":0.025},{"fr":18.74,"a":0.005},{"fr":18.8,"a":0.02},{"fr":18.86,"a":0.01},{"fr":18.92,"a":0.03},{"fr":18.98,"a":0.015},{"fr":19.04,"a":0.025},{"fr":19.1,"a":0.01},{"fr":19.16,"a":0.03},{"fr":19.22,"a":0.015},{"fr":19.28,"a":0.02},{"fr":19.34,"a":0.01},{"fr":19.4,"a":0.025},{"fr":19.46,"a":0.01},{"fr":19.52,"a":0.03},{"fr":19.58,"a":0.015},{"fr":19.64,"a":0.025},{"fr":19.7,"a":0.01},{"fr":19.76,"a":0.03},{"fr":19.82,"a":0.015},{"fr":19.88,"a":0.025},{"fr":19.94,"a":0.01},{"fr":20.0,"a":0.02}
],
"pk":[{"fr":5.56,"a":0.65},{"fr":6.42,"a":0.51}]
},
"vconcat":[
{
"width":745,"height":228,
"data":{"name":"lc"},
"mark":{"type":"tick","orient":"vertical","size":14,"thickness":1,"color":"#000","opacity":0.65,"clip":true},
"encoding":{
"x":{"field":"t","type":"quantitative","scale":{"domain":[1599.82,1623.66],"nice":false,"zero":false},"axis":{"values":[1600,1605,1610,1615,1620],"format":"d","title":"Time (d)","labelOverlap":false}},
"y":{"field":"f","type":"quantitative","scale":{"domain":[-8.6,7.7],"nice":false,"zero":false},"axis":{"values":[-8,-6,-4,-2,0,2,4,6],"format":"d","title":"Relative flux (ppt)","labelOverlap":false}}
}
},
{
"width":745,"height":228,
"resolve":{"axis":{"x":"independent","y":"independent"}},
"layer":[
{"data":{"name":"ps"},"mark":{"type":"line","color":"#222","strokeWidth":1.1,"clip":true},
"encoding":{
"x":{"field":"fr","type":"quantitative","scale":{"domain":[0,20],"nice":false},"axis":{"values":[0,5,10,15,20],"format":"d","title":"Frequency (d⁻¹)","labelOverlap":false,"titlePadding":4}},
"y":{"field":"a","type":"quantitative","scale":{"domain":[0,1.29],"nice":false},"axis":{"values":[0,0.2,0.4,0.6,0.8,1.0,1.2],"format":".1f","title":"Amplitude (ppt)","labelOverlap":false}}
}},
{"data":{"name":"pk"},"mark":{"type":"point","shape":"M0,-1L0.2245,-0.309L0.951,-0.309L0.363,0.118L0.588,0.809L0,0.382L-0.588,0.809L-0.363,0.118L-0.951,-0.309L-0.2245,-0.309Z","filled":true,"color":"red","size":45,"opacity":1},
"encoding":{"x":{"field":"fr","type":"quantitative","axis":null},"y":{"field":"a","type":"quantitative","axis":null}}},
{"data":{"values":[{}]},"mark":{"type":"text","align":"left","baseline":"top","fontSize":20,"lineHeight":22,"font":"Liberation Serif","color":"#000","text":["β Cen","HD 122451","B1 III","133 km s⁻¹"]},
"encoding":{"x":{"datum":15,"type":"quantitative","axis":null},"y":{"datum":1.2,"type":"quantitative","axis":null}}}
]
}
]
}
